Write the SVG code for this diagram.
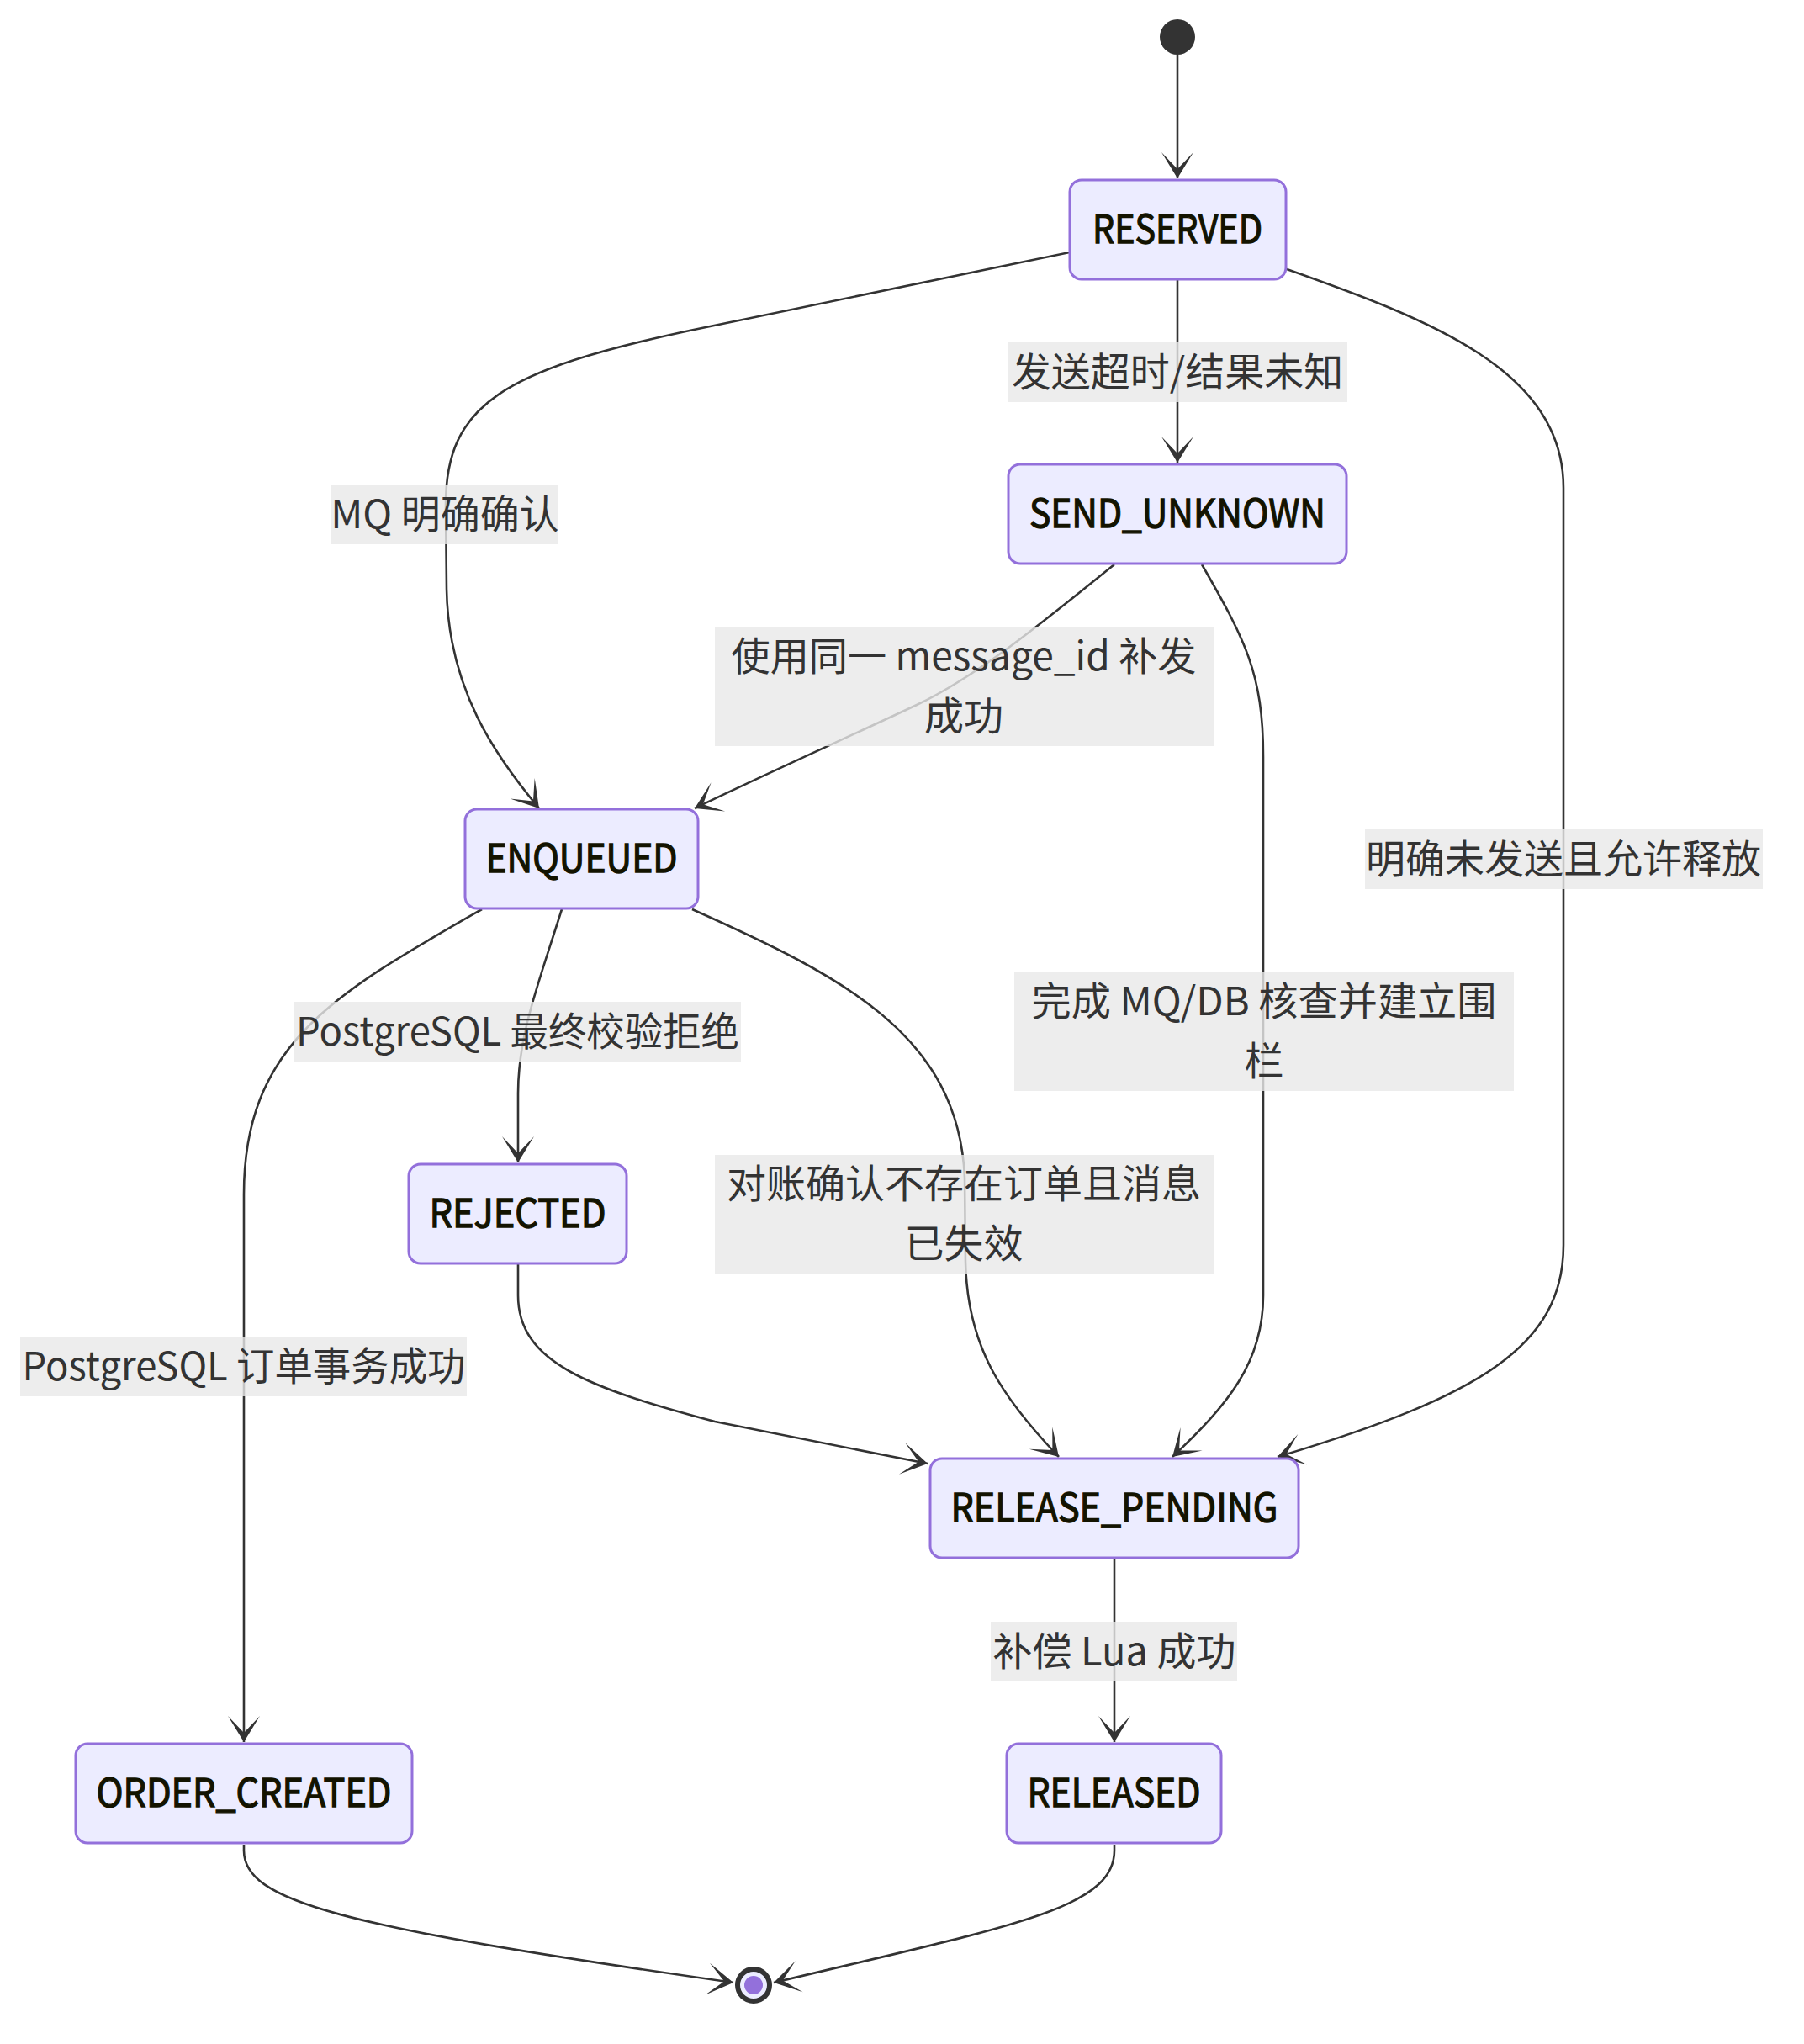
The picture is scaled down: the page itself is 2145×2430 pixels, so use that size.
<svg xmlns="http://www.w3.org/2000/svg" width="2145" height="2430" viewBox="0 0 2145 2430">
<style>
  .node rect { fill: #ECECFF; stroke: #9370DB; stroke-width: 3; }
  .node text { font-family: "Noto Sans CJK SC", "Noto Sans", sans-serif; font-size: 47px; font-weight: normal; fill: #131300; stroke: #131300; stroke-width: 1.3; text-anchor: middle; dominant-baseline: central; }
  .edge { fill: none; stroke: #333333; stroke-width: 2.6; marker-end: url(#barb); }
  .elabel rect { fill: #e8e8e8; fill-opacity: 0.8; }
  .elabel text { font-family: "Noto Sans CJK SC", "Noto Sans", sans-serif; font-size: 47px; fill: #333333; text-anchor: middle; dominant-baseline: central; }
</style>
<defs>
  <marker id="barb" viewBox="-33 -20 34 40" markerWidth="34" markerHeight="40" refX="0" refY="0" markerUnits="userSpaceOnUse" orient="auto">
    <path d="M0,0 L-31,-19 L-11,0 L-31,19 Z" fill="#333333"/>
  </marker>
</defs>
<rect width="2145" height="2430" fill="#ffffff"/>

<g id="connectors">
  <path class="edge" d="M1400,65 L1400,212"/>
  <path class="edge" d="M1400,332 L1400,550"/>
  <path class="edge" d="M1272,300 L820,393 C600,440 530,480 530,600 L531,700 C533,820 590,900 641,961"/>
  <path class="edge" d="M1325,671 C1240,740 1160,805 1090,838 S900,925 826,961"/>
  <path class="edge" d="M1429,671 C1480,760 1502,800 1502,900 L1502,1540 C1502,1620 1460,1670 1394,1732"/>
  <path class="edge" d="M1530,320 C1700,380 1859,440 1859,580 L1859,1480 C1859,1600 1760,1660 1519,1732"/>
  <path class="edge" d="M668,1081 C640,1170 616,1230 616,1300 L616,1382"/>
  <path class="edge" d="M573,1081 C400,1180 290,1240 290,1420 L290,2071"/>
  <path class="edge" d="M823,1081 C1000,1160 1140,1230 1147,1400 L1148,1500 C1150,1600 1190,1660 1259,1732"/>
  <path class="edge" d="M616,1503 L616,1540 C616,1620 700,1650 850,1690 L1103,1740"/>
  <path class="edge" d="M1325,1853 L1325,2071"/>
  <path class="edge" d="M290,2193 L290,2200 C290,2260 400,2290 872,2357"/>
  <path class="edge" d="M1325,2193 L1325,2200 C1325,2270 1200,2290 920,2357"/>
</g>

<g id="edge-labels">
  <g class="elabel"><rect x="394" y="576" width="270" height="71"/><text x="529" y="607">MQ 明确确认</text></g>
  <g class="elabel"><rect x="1198" y="407" width="404" height="71"/><text x="1400" y="438">发送超时/结果未知</text></g>
  <g class="elabel"><rect x="850" y="746" width="593" height="141"/><text x="1146" y="776" textLength="553" lengthAdjust="spacingAndGlyphs">使用同一 message_id 补发</text><text x="1146" y="847">成功</text></g>
  <g class="elabel"><rect x="1623" y="986" width="473" height="71"/><text x="1859" y="1017">明确未发送且允许释放</text></g>
  <g class="elabel"><rect x="350" y="1191" width="531" height="71"/><text x="615.5" y="1222" textLength="527" lengthAdjust="spacingAndGlyphs">PostgreSQL 最终校验拒绝</text></g>
  <g class="elabel"><rect x="1206" y="1156" width="594" height="141"/><text x="1503" y="1186" textLength="553" lengthAdjust="spacingAndGlyphs">完成 MQ/DB 核查并建立围</text><text x="1503" y="1257">栏</text></g>
  <g class="elabel"><rect x="850" y="1373" width="593" height="141"/><text x="1146" y="1403">对账确认不存在订单且消息</text><text x="1146" y="1474">已失效</text></g>
  <g class="elabel"><rect x="24" y="1589" width="531" height="71"/><text x="290" y="1620" textLength="527" lengthAdjust="spacingAndGlyphs">PostgreSQL 订单事务成功</text></g>
  <g class="elabel"><rect x="1178" y="1928" width="293" height="71"/><text x="1325" y="1959">补偿 Lua 成功</text></g>
</g>

<g id="start">
  <circle cx="1400" cy="44" r="21" fill="#333333"/>
</g>
<g id="RESERVED" class="node"><rect x="1272" y="214" width="257" height="118" rx="14"/><text x="1400" y="268" textLength="202" lengthAdjust="spacingAndGlyphs">RESERVED</text></g>
<g id="SEND_UNKNOWN" class="node"><rect x="1199" y="552" width="402" height="118" rx="14"/><text x="1400" y="606" textLength="352" lengthAdjust="spacingAndGlyphs">SEND_UNKNOWN</text></g>
<g id="ENQUEUED" class="node"><rect x="553" y="962" width="277" height="118" rx="14"/><text x="691.5" y="1016" textLength="228" lengthAdjust="spacingAndGlyphs">ENQUEUED</text></g>
<g id="REJECTED" class="node"><rect x="486" y="1384" width="259" height="118" rx="14"/><text x="615.5" y="1438" textLength="210" lengthAdjust="spacingAndGlyphs">REJECTED</text></g>
<g id="RELEASE_PENDING" class="node"><rect x="1106" y="1734" width="438" height="118" rx="14"/><text x="1325" y="1788" textLength="389" lengthAdjust="spacingAndGlyphs">RELEASE_PENDING</text></g>
<g id="ORDER_CREATED" class="node"><rect x="90" y="2073" width="400" height="118" rx="14"/><text x="290" y="2127" textLength="351" lengthAdjust="spacingAndGlyphs">ORDER_CREATED</text></g>
<g id="RELEASED" class="node"><rect x="1197" y="2073" width="255" height="118" rx="14"/><text x="1324.5" y="2127" textLength="206" lengthAdjust="spacingAndGlyphs">RELEASED</text></g>
<g id="end">
  <circle cx="896" cy="2360" r="19" fill="#ECECFF" stroke="#333333" stroke-width="6"/>
  <circle cx="896" cy="2360" r="11" fill="#9370DB"/>
</g>
</svg>
